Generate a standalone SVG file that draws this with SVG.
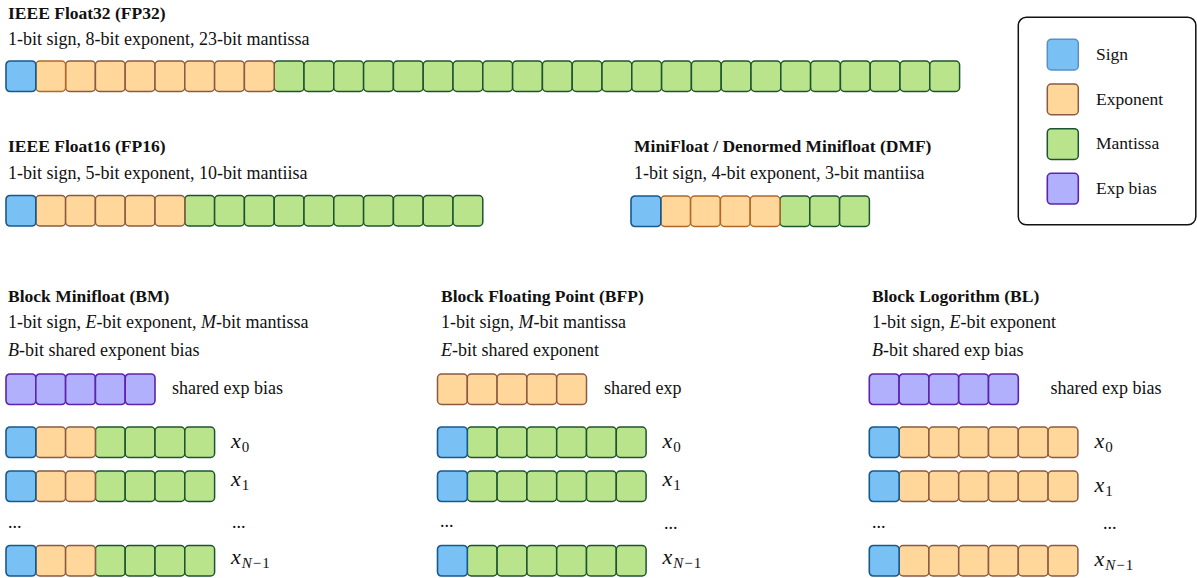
<svg xmlns="http://www.w3.org/2000/svg" xmlns:xlink="http://www.w3.org/1999/xlink" width="1197" height="578" viewBox="0 0 1197 578">
<style>
text{font-family:"Liberation Serif","Times New Roman",serif;fill:#111}
.t{font-weight:bold;font-size:17.5px}
.s{font-size:18px}
.lg{font-size:17.5px}
.m{font-style:italic}
.x{font-style:italic;font-size:22px}
.sub{font-size:15px;font-style:normal}
.subi{font-size:15px;font-style:italic}
.sg{fill:#79c1f4;stroke:#16598f;stroke-width:1.6}
.ex{fill:#ffd79b;stroke:#8c5a42;stroke-width:1.5}
.exo{fill:#ffd79b;stroke:#b0682a;stroke-width:1.5}
.ma{fill:#b9e48c;stroke:#1d5430;stroke-width:1.5}
.eb{fill:#b0b0fc;stroke:#5d22b0;stroke-width:1.6}
</style>
<defs>
<rect id="S" width="29.8" height="30.5" rx="4" class="sg"/>
<rect id="E" width="29.8" height="30.5" rx="4" class="ex"/>
<rect id="O" width="29.8" height="30.5" rx="4" class="exo"/>
<rect id="M" width="29.8" height="30.5" rx="4" class="ma"/>
<rect id="B" width="29.8" height="30.5" rx="4" class="eb"/>
</defs>

<g id="fp32">
<text class="t" x="8" y="18.5">IEEE Float32 (FP32)</text>
<text class="s" x="8" y="44.7">1-bit sign, 8-bit exponent, 23-bit mantissa</text>
<g transform="translate(6,61)">
<use href="#M" x="268.2"/><use href="#M" x="298"/><use href="#M" x="327.8"/><use href="#M" x="357.6"/><use href="#M" x="387.4"/><use href="#M" x="417.2"/><use href="#M" x="447"/><use href="#M" x="476.8"/><use href="#M" x="506.6"/><use href="#M" x="536.4"/><use href="#M" x="566.2"/><use href="#M" x="596"/><use href="#M" x="625.8"/><use href="#M" x="655.6"/><use href="#M" x="685.4"/><use href="#M" x="715.2"/><use href="#M" x="745"/><use href="#M" x="774.8"/><use href="#M" x="804.6"/><use href="#M" x="834.4"/><use href="#M" x="864.2"/><use href="#M" x="894"/><use href="#M" x="923.8"/>
<use href="#E" x="59.6"/><use href="#E" x="89.4"/><use href="#E" x="119.2"/><use href="#E" x="149"/><use href="#E" x="178.8"/><use href="#E" x="208.6"/><use href="#E" x="238.4"/><use href="#O" x="29.8"/>
<use href="#S" x="0"/>
</g>
</g>

<g id="fp16">
<text class="t" x="8" y="152.3">IEEE Float16 (FP16)</text>
<text class="s" x="8" y="179">1-bit sign, 5-bit exponent, 10-bit mantiisa</text>
<g transform="translate(6,195.5)">
<use href="#M" x="178.8"/><use href="#M" x="208.6"/><use href="#M" x="238.4"/><use href="#M" x="268.2"/><use href="#M" x="298"/><use href="#M" x="327.8"/><use href="#M" x="357.6"/><use href="#M" x="387.4"/><use href="#M" x="417.2"/><use href="#M" x="447"/>
<use href="#E" x="29.8"/><use href="#E" x="59.6"/><use href="#E" x="89.4"/><use href="#E" x="119.2"/><use href="#E" x="149"/>
<use href="#S" x="0"/>
</g>
</g>

<g id="dmf">
<text class="t" x="634" y="152">MiniFloat / Denormed Minifloat (DMF)</text>
<text class="s" x="634" y="179">1-bit sign, 4-bit exponent, 3-bit mantiisa</text>
<g transform="translate(631,196)">
<use href="#M" x="149"/><use href="#M" x="178.8"/><use href="#M" x="208.6"/>
<use href="#O" x="29.8"/><use href="#O" x="59.6"/><use href="#O" x="89.4"/><use href="#O" x="119.2"/>
<use href="#S" x="0"/>
</g>
</g>

<g id="legend">
<rect x="1018.3" y="17.3" width="177.5" height="207.5" rx="8" fill="#fff" stroke="#111" stroke-width="1.5"/>
<rect x="1047.3" y="39.3" width="31" height="30.7" rx="4" fill="#79c1f4" stroke="#5a8fc4" stroke-width="1.5"/>
<rect x="1047.3" y="84" width="31" height="30.7" rx="4" class="ex"/>
<rect x="1047.3" y="128.7" width="31" height="30.7" rx="4" class="ma"/>
<rect x="1047.3" y="173.3" width="31" height="30.7" rx="4" class="eb"/>
<text class="lg" x="1096" y="60">Sign</text>
<text class="lg" x="1096" y="104.5">Exponent</text>
<text class="lg" x="1096" y="149">Mantissa</text>
<text class="lg" x="1096" y="193.5">Exp bias</text>
</g>

<g id="bm">
<text class="t" x="8" y="301.7">Block Minifloat (BM)</text>
<text class="s" x="8" y="328.3">1-bit sign, <tspan class="m">E</tspan>-bit exponent, <tspan class="m">M</tspan>-bit mantissa</text>
<text class="s" x="8" y="356"><tspan class="m">B</tspan>-bit shared exponent bias</text>
<g transform="translate(6,374)">
<use href="#B" x="0"/><use href="#B" x="29.8"/><use href="#B" x="59.6"/><use href="#B" x="89.4"/><use href="#B" x="119.2"/>
</g>
<text class="s" x="172" y="394">shared exp bias</text>
<g transform="translate(6,427)">
<use href="#M" x="89.4"/><use href="#M" x="119.2"/><use href="#M" x="149"/><use href="#M" x="178.8"/><use href="#E" x="29.8"/><use href="#E" x="59.6"/><use href="#S" x="0"/>
</g>
<g transform="translate(6,471)">
<use href="#M" x="89.4"/><use href="#M" x="119.2"/><use href="#M" x="149"/><use href="#M" x="178.8"/><use href="#E" x="29.8"/><use href="#E" x="59.6"/><use href="#S" x="0"/>
</g>
<g transform="translate(6,545.5)">
<use href="#M" x="89.4"/><use href="#M" x="119.2"/><use href="#M" x="149"/><use href="#M" x="178.8"/><use href="#E" x="29.8"/><use href="#E" x="59.6"/><use href="#S" x="0"/>
</g>
<text class="x" x="231" y="448">x<tspan class="sub" dx="1" dy="4">0</tspan></text>
<text class="x" x="231" y="486">x<tspan class="sub" dx="1" dy="4">1</tspan></text>
<text class="s" x="8" y="528">...</text>
<text class="s" x="232" y="528">...</text>
<text class="x" x="231" y="564">x<tspan class="subi" dx="1" dy="4">N</tspan><tspan class="sub" dx="1">−</tspan><tspan class="sub" dx="1">1</tspan></text>
</g>

<g id="bfp">
<text class="t" x="441" y="301.7">Block Floating Point (BFP)</text>
<text class="s" x="441" y="328.3">1-bit sign, <tspan class="m">M</tspan>-bit mantissa</text>
<text class="s" x="441" y="356"><tspan class="m">E</tspan>-bit shared exponent</text>
<g transform="translate(437.5,374)">
<use href="#E" x="0"/><use href="#E" x="29.8"/><use href="#E" x="59.6"/><use href="#E" x="89.4"/><use href="#E" x="119.2"/>
</g>
<text class="s" x="604" y="394">shared exp</text>
<g transform="translate(437.5,427)">
<use href="#M" x="29.8"/><use href="#M" x="59.6"/><use href="#M" x="89.4"/><use href="#M" x="119.2"/><use href="#M" x="149"/><use href="#M" x="178.8"/><use href="#S" x="0"/>
</g>
<g transform="translate(437.5,471)">
<use href="#M" x="29.8"/><use href="#M" x="59.6"/><use href="#M" x="89.4"/><use href="#M" x="119.2"/><use href="#M" x="149"/><use href="#M" x="178.8"/><use href="#S" x="0"/>
</g>
<g transform="translate(437.5,545.5)">
<use href="#M" x="29.8"/><use href="#M" x="59.6"/><use href="#M" x="89.4"/><use href="#M" x="119.2"/><use href="#M" x="149"/><use href="#M" x="178.8"/><use href="#S" x="0"/>
</g>
<text class="x" x="662.5" y="448">x<tspan class="sub" dx="1" dy="4">0</tspan></text>
<text class="x" x="662.5" y="486">x<tspan class="sub" dx="1" dy="4">1</tspan></text>
<text class="s" x="440" y="527">...</text>
<text class="s" x="664" y="529">...</text>
<text class="x" x="662.5" y="564">x<tspan class="subi" dx="1" dy="4">N</tspan><tspan class="sub" dx="1">−</tspan><tspan class="sub" dx="1">1</tspan></text>
</g>

<g id="bl">
<text class="t" x="872" y="301.7">Block Logorithm (BL)</text>
<text class="s" x="872" y="328.3">1-bit sign, <tspan class="m">E</tspan>-bit exponent</text>
<text class="s" x="872" y="356"><tspan class="m">B</tspan>-bit shared exp bias</text>
<g transform="translate(869.3,374)">
<use href="#B" x="0"/><use href="#B" x="29.8"/><use href="#B" x="59.6"/><use href="#B" x="89.4"/><use href="#B" x="119.2"/>
</g>
<text class="s" x="1050.5" y="394">shared exp bias</text>
<g transform="translate(869.3,427)">
<use href="#E" x="29.8"/><use href="#E" x="59.6"/><use href="#E" x="89.4"/><use href="#E" x="119.2"/><use href="#E" x="149"/><use href="#E" x="178.8"/><use href="#S" x="0"/>
</g>
<g transform="translate(869.3,471)">
<use href="#E" x="29.8"/><use href="#E" x="59.6"/><use href="#E" x="89.4"/><use href="#E" x="119.2"/><use href="#E" x="149"/><use href="#E" x="178.8"/><use href="#S" x="0"/>
</g>
<g transform="translate(869.3,545.5)">
<use href="#E" x="29.8"/><use href="#E" x="59.6"/><use href="#E" x="89.4"/><use href="#E" x="119.2"/><use href="#E" x="149"/><use href="#E" x="178.8"/><use href="#S" x="0"/>
</g>
<text class="x" x="1094.5" y="448">x<tspan class="sub" dx="1" dy="4">0</tspan></text>
<text class="x" x="1094.5" y="492">x<tspan class="sub" dx="1" dy="4">1</tspan></text>
<text class="s" x="872" y="528">...</text>
<text class="s" x="1103" y="529">...</text>
<text class="x" x="1094.5" y="566">x<tspan class="subi" dx="1" dy="4">N</tspan><tspan class="sub" dx="1">−</tspan><tspan class="sub" dx="1">1</tspan></text>
</g>
<g id="connectors"/>
</svg>
